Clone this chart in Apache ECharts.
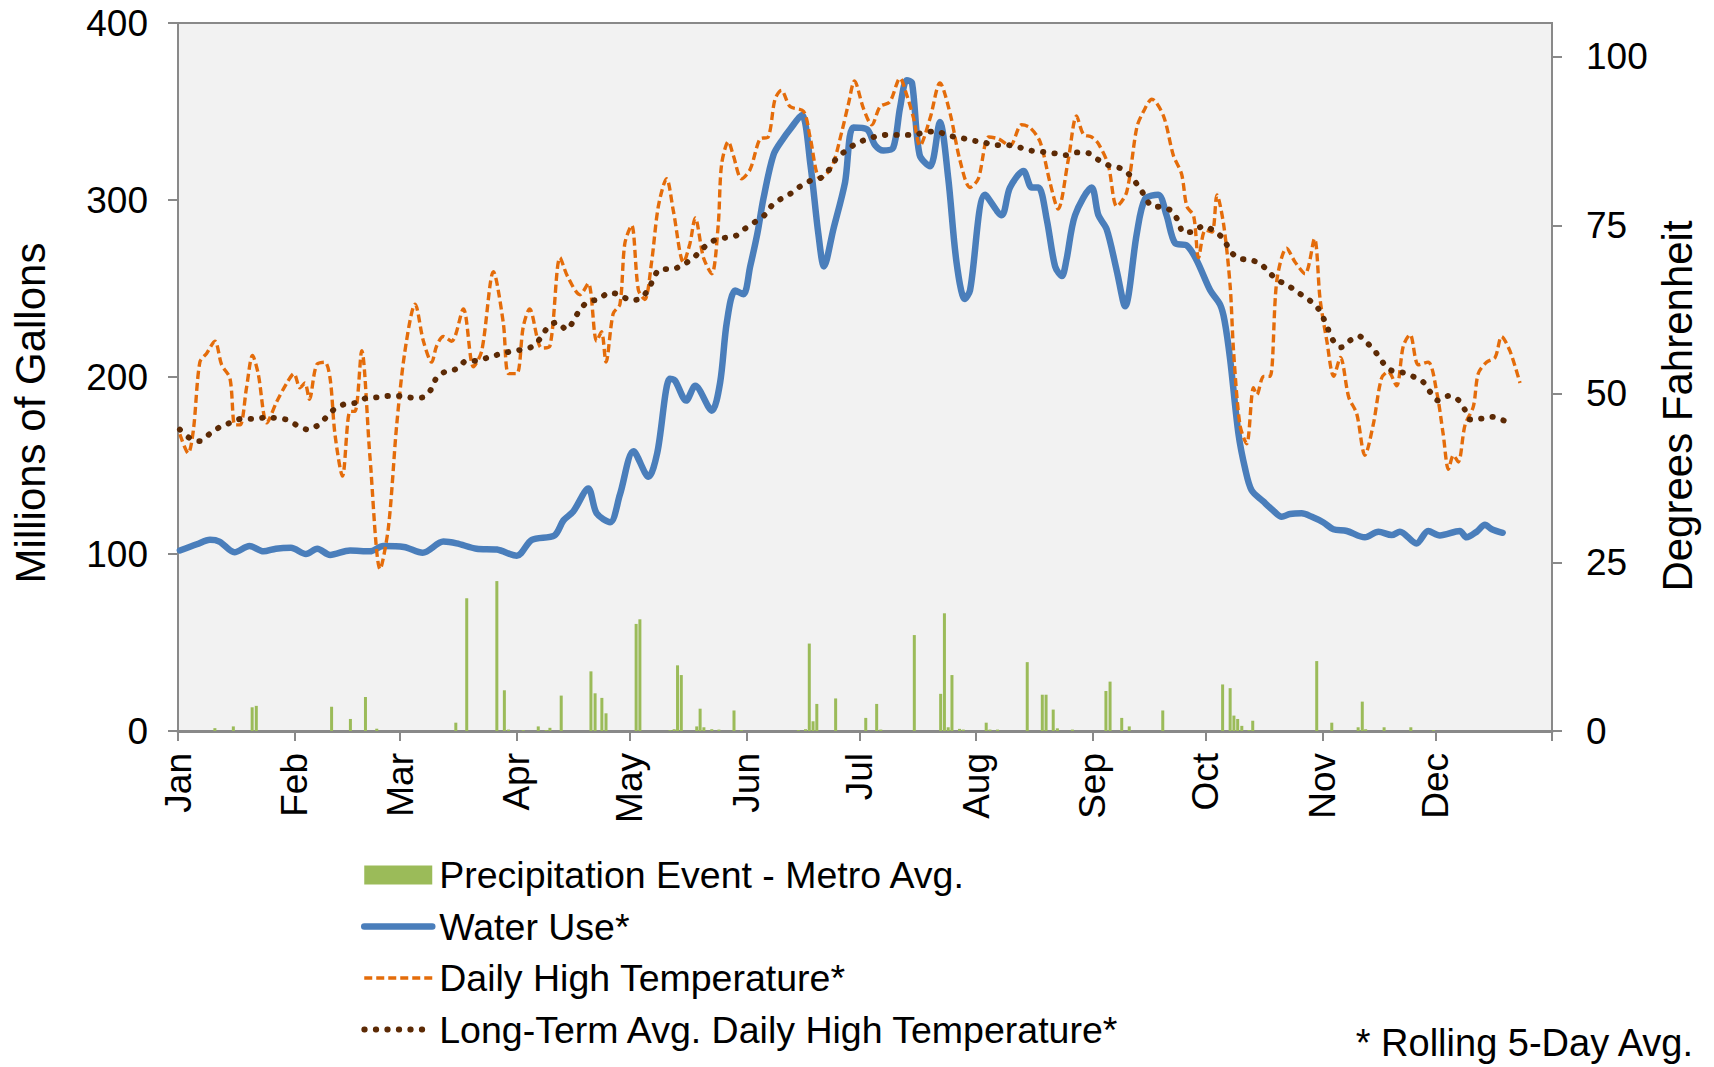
<!DOCTYPE html>
<html>
<head>
<meta charset="utf-8">
<script src="https://cdn.jsdelivr.net/npm/echarts@6/dist/echarts.min.js"></script>
<style>
html,body{margin:0;padding:0;background:#fff;}
#chart{width:1714px;height:1067px;}
</style>
</head>
<body>
<div id="chart"></div>
<script>
// ---------- DATA ----------
const months = ['Jan','Feb','Mar','Apr','May','Jun','Jul','Aug','Sep','Oct','Nov','Dec'];
const monthStartDays = [0,31,59,90,120,151,181,212,243,273,304,334];
const yearEndDay = 365;
const leftTicks = [0,100,200,300,400];
const rightTicks = [0,25,50,75,100];

// [day of year, millions of gallons] (rolling 5-day avg)
const waterUse = [[0.5,102],[5,105.5],[8.5,108],[11,107],[15,101],[19,104.5],[22.7,101.5],[26,103],[30,103.5],[34,100],[37,103],[40.4,99.5],[45.7,102],[51,101.5],[54.5,104.5],[60,104],[65,100.7],[70.5,107],[74,106],[79.3,103],[84.7,102.5],[90,99],[94,108],[100,110.5],[102.4,119],[105,124],[109,137],[111.2,123],[114.8,118],[117.4,133.6],[121,158],[125,143.6],[127.3,157],[130.7,199],[132,198],[135,186.7],[137.4,195],[141.8,181],[144,196.7],[145.8,231],[148,248.8],[150.2,246.7],[152,262.5],[153.9,281],[155.5,300.6],[158.2,325.6],[160.8,334.8],[162.6,340],[165.7,348],[168,320],[170.1,281],[171.6,262.5],[174.1,283.5],[177.2,310],[179.4,341],[183,340],[185.2,331],[187.4,328],[190,329.6],[191.8,352],[193.6,367.7],[195,366],[197,325.6],[199.8,319],[202.4,344],[204.6,312.5],[206.8,265],[209,244],[210.4,249],[214.4,303],[218.8,291.4],[221,307],[224.6,316.4],[226.8,307],[228.6,307],[230.8,288.8],[233,262.5],[234.8,257],[236,266],[238.3,291.4],[242.7,307],[244.5,291.4],[246.7,283.5],[249.4,259.8],[251.6,240],[254.7,281],[256.9,300.6],[260.4,303],[262.6,291.4],[264.9,275.6],[268,274.3],[270.6,266],[274.2,249],[276.8,241],[278,232],[279.5,210],[281.7,168],[283.5,148],[285.2,136],[288.3,129.7],[291,124.4],[293.2,121],[295.4,122.6],[298.5,123],[301.2,121],[304.3,117.8],[306.9,114],[310.5,113],[315.3,109.4],[318.9,112.6],[322.4,110.7],[324.6,112.6],[329,106],[332.1,113],[335.2,110.5],[340.5,113],[342.3,109.4],[345,112.6],[347.2,116.5],[349,114],[351.9,112]];

// [day, degrees F] (rolling 5-day avg)
const dailyHigh = [[0.5,44],[2.7,41.2],[4.1,44.7],[5.8,54.7],[7.6,56],[9.8,57.8],[11.6,54.3],[13.8,52.3],[15.1,45.4],[16.5,45.4],[18.2,50.9],[19.8,55.7],[21.3,53],[23.6,45.7],[26.2,48.8],[28.9,51.6],[30.8,53],[32.4,50.9],[33.7,51.6],[34.9,49.2],[36.8,54.3],[39,54.7],[40.4,52.3],[41.7,44],[43.7,37.8],[45.7,47.4],[47,47.4],[48.8,56.4],[51,40.6],[53.7,24],[55.9,30.2],[58.1,45.4],[60.3,56.4],[63,63.3],[65.2,57.8],[67.4,54.7],[68.7,57.1],[70.5,58.5],[72.7,57.8],[75.8,62.6],[78.5,54],[80.7,56.4],[83.8,68.1],[86.4,60.6],[87.8,53],[90,53],[91.7,59.9],[93.4,62.6],[96.6,56.8],[98.8,57.1],[101.5,70.2],[103.5,67.4],[106.8,64.7],[109,66.4],[111.2,57.8],[112.5,59.2],[113.7,54.7],[115.6,61.9],[117.4,63.3],[118.7,72.3],[120.5,75],[122.3,65.4],[124,64],[125.8,69.5],[127.6,77.8],[129.8,81.9],[131.6,77.1],[134.3,69.5],[136,72.3],[137.4,76.1],[139.6,70.2],[141.8,67.8],[143.5,75],[144.4,84],[146.2,87.4],[147.5,85.4],[149.7,81.9],[152,83.3],[154.6,87.8],[156.8,88.1],[158.6,93.7],[160.3,95],[162.6,92.6],[166.2,91.9],[167.9,88.1],[170.6,81.9],[173.7,83.7],[176.3,88.8],[178.1,93],[179.7,96.4],[182.1,92.3],[184.3,89.9],[186.5,92.6],[189.1,93.3],[191.8,96.8],[193.6,94.3],[195.4,90.9],[197.1,86.8],[199.8,90.9],[202.4,96.1],[205.1,91.6],[207.7,84.7],[210.4,80.6],[212.6,81.9],[215.4,88.1],[218,87.8],[221,86.8],[224.1,89.9],[226.3,89.5],[229,87.4],[231.7,81.2],[233.8,77.4],[236.5,84.7],[238.7,91.2],[240.5,88.5],[242.7,88.1],[244.5,87.1],[247.1,84],[249.4,77.8],[252,79.9],[254.7,89.5],[256.5,91.9],[258.7,93.7],[261.8,91.2],[264.4,85.4],[266.6,82.6],[268,77.8],[269.8,76.4],[271.1,70.2],[272.9,74.3],[274.7,74],[276,79.5],[277.8,75],[279.5,66],[280.4,56.4],[282.1,45.4],[283.9,42.6],[285.7,50.9],[286.6,49.9],[288.4,52.6],[290.1,52.6],[291.9,66.8],[294.5,71.6],[296.8,69.5],[299.4,67.8],[301.9,73],[303.4,64],[305.2,57.8],[307,52.6],[308.8,55.4],[311,49.5],[313.1,47.1],[315.3,40.9],[317.5,45.4],[319.7,52.3],[321.5,53.3],[323.7,51.2],[325.5,57.1],[327.3,58.8],[329.5,54.3],[332.1,54.7],[334.4,50.2],[336.1,44],[337.5,38.8],[338.8,40.9],[340.1,39.9],[341.9,45.4],[344.1,48.1],[345.4,53],[347.6,54.7],[349.9,55.4],[351.6,58.5],[353.8,56.4],[356.5,51.6]];

// [day, degrees F] long-term average daily high (rolling 5-day avg)
const longTermHigh = [[0.5,44.7],[3.2,43.4],[5.8,43],[8.5,44.1],[11.2,45.1],[13.8,45.7],[16.9,46.3],[20,46.3],[23.6,46.5],[26.2,46.4],[29.3,46.1],[32,45.2],[34.6,44.7],[37.3,45.4],[39.5,46.6],[41.7,47.8],[44.4,48.5],[47.5,48.7],[50.1,49.4],[53.2,49.5],[56.3,49.7],[59.4,49.7],[62.5,49.4],[65.2,49.5],[67.4,50.8],[68.7,52.4],[71.4,53.4],[74,53.7],[76.7,54.9],[79.3,54.9],[82.4,55.4],[85.5,55.9],[88.6,56.3],[91.7,56.6],[94.4,57.1],[96.6,58.5],[98.4,60],[100.6,60.6],[103.3,59.5],[105,60.8],[106.8,62.5],[109,63.7],[111.7,64],[114.6,65],[117.4,64.7],[120.1,63.9],[122.7,64.1],[125,65.5],[126.3,67.1],[128.1,68.5],[131.2,68.5],[134.3,69.2],[137,70.2],[139.1,71.4],[141.8,72.6],[144.9,73.1],[148,73.4],[150.6,74.5],[153.3,75.5],[156,76.6],[157.7,77.9],[160.4,79],[163,79.8],[165.4,80.8],[168.4,81.7],[171,82.1],[173.2,83.4],[175,85],[177.6,86.1],[180.3,87.2],[183.4,87.8],[186.1,88.3],[189.1,88.4],[192.3,88.4],[195.3,88.4],[198.4,88.8],[201.5,88.9],[204.6,88.3],[207.7,88],[210.8,87.6],[214,87.3],[217,86.9],[220.1,86.9],[223.2,86.6],[226.3,86.1],[229.4,85.9],[232.5,85.7],[235.6,85.4],[238.7,85.8],[241.8,85.7],[244.5,84.7],[247.6,83.8],[250.7,83.4],[253.1,82.3],[255.1,80.8],[256.9,79.3],[258.7,77.8],[261.3,77.7],[264,77.1],[265.8,75.5],[267.1,73.9],[269.8,74.1],[272.4,74.9],[275.1,74.2],[277.7,73],[279.5,71.2],[281.7,70.1],[284.3,69.9],[287.3,69.4],[289.7,68.1],[292,66.9],[294.8,66.1],[297.6,65],[300.3,64],[302.7,62.8],[304.3,61.2],[305.6,59.5],[306.9,57.9],[309,56.9],[311.3,57.9],[313.6,58.6],[315.8,57.6],[318,56.3],[320,54.7],[322.2,53.5],[325.1,53.2],[328,52.6],[330.7,51.8],[332.6,50.3],[334.8,49],[337.5,49.7],[339.9,49.2],[341.7,47.8],[343.2,46.2],[345.9,46.3],[349,46.6],[351.9,46.1],[354.9,45.7]];

// [day, precipitation bar height read on the left scale]
const precipitation = [[9.8,1.6],[14.7,2.6],[19.7,13.4],[20.8,14.2],[40.8,13.7],[45.8,6.8],[49.8,19.2],[52.8,1.3],[73.8,4.7],[76.7,75],[84.7,84.7],[86.7,23],[87.8,0.8],[91.7,0.5],[95.7,2.6],[97.8,0.5],[98.8,1.8],[101.8,20],[109.7,33.7],[110.8,21.3],[112.6,18.7],[113.7,10],[121.7,60.5],[122.7,63.1],[130.7,0.5],[131.8,1],[132.7,37.1],[133.7,31.6],[137.8,2.6],[138.7,12.6],[139.7,2.1],[141.8,1],[143.7,0.8],[147.7,11.6],[149.7,0.5],[164.8,0.5],[166.7,1],[167.7,49.4],[168.7,5.5],[169.7,15.3],[174.7,18.4],[182.7,7.4],[185.6,15.3],[186.7,0.8],[195.6,54.2],[202.6,21],[203.6,66.5],[204.6,2.1],[205.6,31.6],[207.6,1.2],[208.6,0.8],[214.7,4.7],[215.7,0.8],[217.7,0.8],[225.6,38.9],[229.6,20.5],[230.6,20.5],[232.5,12.1],[233.6,1.5],[237.6,0.8],[246.5,22.6],[247.6,27.9],[250.7,7.4],[252.7,2.6],[261.6,11.6],[277.5,26.3],[279.5,24.2],[280.5,8.7],[281.5,6.8],[282.6,2.9],[284.5,0.5],[285.5,5.8],[302.5,39.5],[306.5,4.7],[313.5,2.1],[314.6,16.6],[315.5,1],[320.4,2.1],[327.5,2.1],[333.5,0.5]];

const seriesNames = ['Precipitation Event - Metro Avg.','Water Use*','Daily High Temperature*','Long-Term Avg. Daily High Temperature*'];
const leftTitle = 'Millions of Gallons';
const rightTitle = 'Degrees Fahrenheit';
const footnote = '* Rolling 5-Day Avg.';

// ---------- CHART ----------
const FONT = '"Liberation Sans", Arial, sans-serif';
const AXIS_COLOR = '#898989';
const BLUE = '#4A7EBB', ORANGE = '#E46C0A', BROWN = '#5C2A05', GREEN = '#9BBB59';
const blueLine = {color: BLUE, width: 6.5, cap: 'round', join: 'round'};
const orangeLine = {color: ORANGE, width: 3.4, type: [8,4]};
const brownLine = {color: BROWN, width: 5.8, type: [0.5,11], cap: 'round'};

const chart = echarts.init(document.getElementById('chart'), null, {renderer: 'svg'});

const option = {
  animation: false,
  backgroundColor: '#ffffff',
  textStyle: {fontFamily: FONT, color: '#000'},
  grid: {left: 178, right: 162, top: 23, bottom: 336, show: true, backgroundColor: '#F2F2F2', borderColor: AXIS_COLOR, borderWidth: 2},
  xAxis: {
    type: 'value', min: 0, max: yearEndDay,
    splitLine: {show: false},
    axisLine: {show: true, onZero: false, lineStyle: {color: AXIS_COLOR, width: 3}},
    axisTick: {show: true, inside: false, length: 10, lineStyle: {color: AXIS_COLOR, width: 2}, customValues: monthStartDays.concat([yearEndDay])},
    axisLabel: {
      customValues: monthStartDays, rotate: 90, margin: 22,
      fontSize: 37, fontFamily: FONT, color: '#000',
      formatter: v => months[monthStartDays.indexOf(v)] || ''
    }
  },
  yAxis: [
    {
      type: 'value', min: leftTicks[0], max: leftTicks[leftTicks.length-1], interval: 100, position: 'left',
      splitLine: {show: false},
      axisLine: {show: true, lineStyle: {color: AXIS_COLOR, width: 2}},
      axisTick: {show: true, inside: false, length: 10, lineStyle: {color: AXIS_COLOR, width: 2}},
      axisLabel: {fontSize: 37, fontFamily: FONT, color: '#000', margin: 30}
    },
    {
      type: 'value', min: 0, max: 105, position: 'right',
      splitLine: {show: false},
      axisLine: {show: true, lineStyle: {color: AXIS_COLOR, width: 2}},
      axisTick: {show: true, inside: false, length: 10, lineStyle: {color: AXIS_COLOR, width: 2}, customValues: rightTicks},
      axisLabel: {customValues: rightTicks, fontSize: 37, fontFamily: FONT, color: '#000', margin: 34}
    }
  ],
  legend: {
    orient: 'vertical', left: 356, top: 850,
    itemWidth: 68, itemHeight: 19, itemGap: 11.5,
    textStyle: {fontSize: 37.5, fontFamily: FONT, color: '#000', lineHeight: 40, padding: [0,0,0,2]},
    data: [
      {name: seriesNames[0], icon: 'rect', itemStyle: {color: GREEN}},
      {name: seriesNames[1], itemStyle: {opacity: 0}, lineStyle: blueLine},
      {name: seriesNames[2], itemStyle: {opacity: 0}, lineStyle: orangeLine},
      {name: seriesNames[3], itemStyle: {opacity: 0}, lineStyle: brownLine}
    ]
  },
  graphic: [
    {type: 'text', x: 30, y: 413, rotation: Math.PI/2,
     style: {text: leftTitle, font: '42px ' + FONT, fill: '#000', textAlign: 'center', textVerticalAlign: 'middle'}},
    {type: 'text', x: 1677, y: 406, rotation: Math.PI/2,
     style: {text: rightTitle, font: '42px ' + FONT, fill: '#000', textAlign: 'center', textVerticalAlign: 'middle'}},
    {type: 'text', x: 1693, y: 1043,
     style: {text: footnote, font: '38px ' + FONT, fill: '#000', textAlign: 'right', textVerticalAlign: 'middle'}}
  ],
  series: [
    {
      name: seriesNames[0], type: 'bar', yAxisIndex: 0, barWidth: 3,
      itemStyle: {color: GREEN},
      data: precipitation
    },
    {
      name: seriesNames[1], type: 'line', yAxisIndex: 0, symbol: 'none', smooth: 0.3,
      lineStyle: blueLine, itemStyle: {color: BLUE},
      data: waterUse
    },
    {
      name: seriesNames[2], type: 'line', yAxisIndex: 1, symbol: 'none', smooth: 0.3,
      lineStyle: orangeLine, itemStyle: {color: ORANGE},
      data: dailyHigh
    },
    {
      name: seriesNames[3], type: 'line', yAxisIndex: 1, symbol: 'none', smooth: 0.3,
      lineStyle: brownLine, itemStyle: {color: BROWN},
      data: longTermHigh
    }
  ]
};
chart.setOption(option);
</script>
</body>
</html>
